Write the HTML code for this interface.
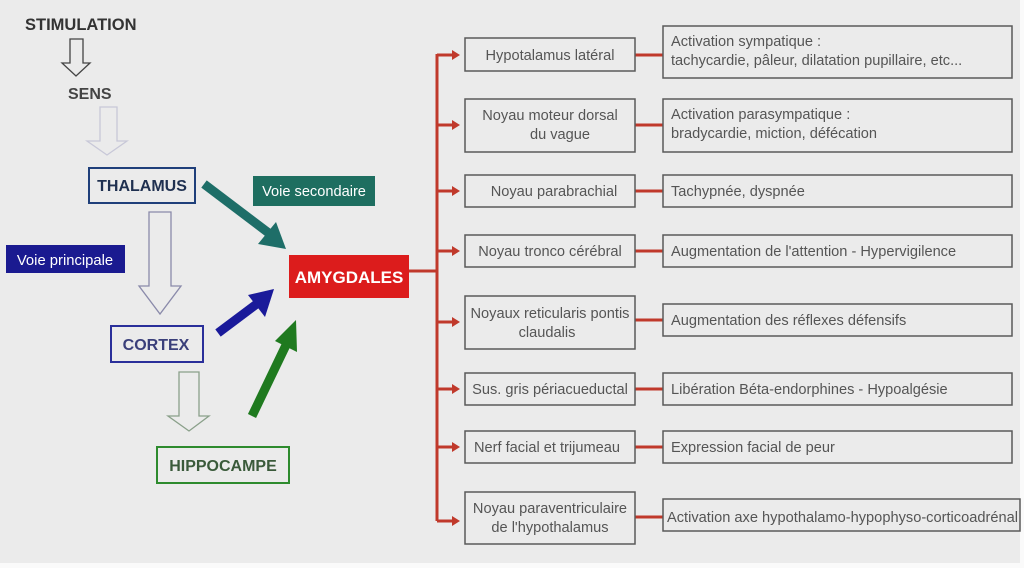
<!DOCTYPE html>
<html><head><meta charset="utf-8"><style>
html,body{margin:0;padding:0;background:#ebebeb;}
svg{display:block;font-family:"Liberation Sans",sans-serif;}
.lb{fill:none;stroke:#5a5a5a;stroke-width:1.5}
.t{font-size:14.6px;fill:#555}
.r{stroke:#c0392b;stroke-width:3;fill:none}
</style></head><body>
<svg width="1024" height="568" viewBox="0 0 1024 568">
<rect width="1024" height="568" fill="#ebebeb"/>
<rect x="1020" y="0" width="4" height="568" fill="#fafafa"/>
<rect x="0" y="563" width="1024" height="5" fill="#fafafa"/>
<text x="25" y="30" font-size="16.5" font-weight="bold" fill="#333">STIMULATION</text>
<path d="M70,39 H83 V63 H90 L76,76 L62,63 H70 Z" fill="none" stroke="#444" stroke-width="1.3"/>
<text x="68" y="99" font-size="16" font-weight="bold" fill="#444">SENS</text>
<path d="M100,107 H117 V141 H127 L107,155 L87,141 H100 Z" fill="none" stroke="#c8c8d8" stroke-width="1.3"/>
<rect x="89" y="168" width="106" height="35" fill="none" stroke="#1f3f7a" stroke-width="2"/>
<text x="142" y="191" font-size="16" font-weight="bold" fill="#1f3050" text-anchor="middle">THALAMUS</text>
<path d="M149,212 H171 V286 H181 L160,314 L139,286 H149 Z" fill="none" stroke="#8a8aaa" stroke-width="1.3"/>
<rect x="6" y="245" width="119" height="28" fill="#1a1a90"/>
<text x="65" y="265" font-size="14.8" fill="#fff" text-anchor="middle">Voie principale</text>
<rect x="111" y="326" width="92" height="36" fill="none" stroke="#2a2f9a" stroke-width="2"/>
<text x="156" y="350" font-size="16" font-weight="bold" fill="#3a3f7a" text-anchor="middle">CORTEX</text>
<path d="M179,372 H199 V416 H209 L189,431 L168,416 H179 Z" fill="none" stroke="#8aa08a" stroke-width="1.3"/>
<rect x="157" y="447" width="132" height="36" fill="none" stroke="#2e8b2e" stroke-width="2"/>
<text x="223" y="471" font-size="16" font-weight="bold" fill="#3a5a3a" text-anchor="middle">HIPPOCAMPE</text>
<rect x="253" y="176" width="122" height="30" fill="#1e6e60"/>
<text x="314" y="196" font-size="14.6" fill="#fff" text-anchor="middle">Voie secondaire</text>
<line x1="204" y1="184" x2="270" y2="234" stroke="#1e6e68" stroke-width="9"/>
<polygon points="286,249 258,244 276,222" fill="#1e6e68"/>
<line x1="218" y1="333" x2="258" y2="303" stroke="#1a1a9a" stroke-width="9"/>
<polygon points="274,289 265,317 248,295" fill="#1a1a9a"/>
<line x1="252" y1="416" x2="287" y2="343" stroke="#1f7a1f" stroke-width="9"/>
<polygon points="296,320 297,352 275,341" fill="#1f7a1f"/>
<rect x="289" y="255" width="120" height="43" fill="#dc1c1c"/>
<text x="349" y="283" font-size="17" font-weight="bold" fill="#fff" text-anchor="middle">AMYGDALES</text>
<line class="r" x1="409" y1="271" x2="437" y2="271"/>
<line class="r" x1="437" y1="54" x2="437" y2="521"/>
<g class="r">
<line x1="437" y1="55" x2="452" y2="55"/><line x1="437" y1="125" x2="452" y2="125"/>
<line x1="437" y1="191" x2="452" y2="191"/><line x1="437" y1="251" x2="452" y2="251"/>
<line x1="437" y1="322" x2="452" y2="322"/><line x1="437" y1="389" x2="452" y2="389"/>
<line x1="437" y1="447" x2="452" y2="447"/><line x1="437" y1="521" x2="452" y2="521"/>
</g>
<g fill="#c0392b">
<polygon points="452,50 460,55 452,60"/><polygon points="452,120 460,125 452,130"/>
<polygon points="452,186 460,191 452,196"/><polygon points="452,246 460,251 452,256"/>
<polygon points="452,317 460,322 452,327"/><polygon points="452,384 460,389 452,394"/>
<polygon points="452,442 460,447 452,452"/><polygon points="452,516 460,521 452,526"/>
</g>
<g class="r">
<line x1="635" y1="55" x2="663" y2="55"/><line x1="635" y1="125" x2="663" y2="125"/>
<line x1="635" y1="191" x2="663" y2="191"/><line x1="635" y1="251" x2="663" y2="251"/>
<line x1="635" y1="320" x2="663" y2="320"/><line x1="635" y1="389" x2="663" y2="389"/>
<line x1="635" y1="447" x2="663" y2="447"/><line x1="635" y1="517" x2="663" y2="517"/>
</g>
<g class="lb">
<rect x="465" y="38" width="170" height="33"/><rect x="465" y="99" width="170" height="53"/>
<rect x="465" y="175" width="170" height="32"/><rect x="465" y="235" width="170" height="32"/>
<rect x="465" y="296" width="170" height="53"/><rect x="465" y="373" width="170" height="32"/>
<rect x="465" y="431" width="170" height="32"/><rect x="465" y="492" width="170" height="52"/>
<rect x="663" y="26" width="349" height="52"/><rect x="663" y="99" width="349" height="53"/>
<rect x="663" y="175" width="349" height="32"/><rect x="663" y="235" width="349" height="32"/>
<rect x="663" y="304" width="349" height="32"/><rect x="663" y="373" width="349" height="32"/>
<rect x="663" y="431" width="349" height="32"/><rect x="663" y="499" width="357" height="32"/>
</g>
<g class="t" text-anchor="middle">
<text x="550" y="60">Hypotalamus latéral</text>
<text x="550" y="120">Noyau moteur dorsal</text><text x="560" y="139">du vague</text>
<text x="554" y="196">Noyau parabrachial</text>
<text x="550" y="256">Noyau tronco cérébral</text>
<text x="550" y="318">Noyaux reticularis pontis</text><text x="547" y="337">claudalis</text>
<text x="550" y="394">Sus. gris périacueductal</text>
<text x="547" y="452">Nerf facial et trijumeau</text>
<text x="550" y="513">Noyau paraventriculaire</text><text x="550" y="532">de l'hypothalamus</text>
</g>
<g class="t">
<text x="671" y="46">Activation sympatique :</text><text x="671" y="65">tachycardie, pâleur, dilatation pupillaire, etc...</text>
<text x="671" y="119">Activation parasympatique :</text><text x="671" y="138">bradycardie, miction, défécation</text>
<text x="671" y="196">Tachypnée, dyspnée</text>
<text x="671" y="256">Augmentation de l'attention - Hypervigilence</text>
<text x="671" y="325">Augmentation des réflexes défensifs</text>
<text x="671" y="394">Libération Béta-endorphines - Hypoalgésie</text>
<text x="671" y="452">Expression facial de peur</text>
<text x="667" y="522" textLength="351" lengthAdjust="spacingAndGlyphs">Activation axe hypothalamo-hypophyso-corticoadrénal</text>
</g>
</svg>
</body></html>
